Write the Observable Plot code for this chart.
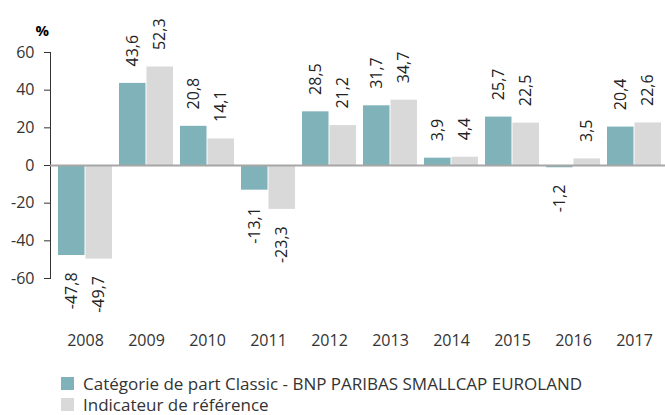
<!DOCTYPE html>
<html><head><meta charset="utf-8">
<script src="https://cdn.jsdelivr.net/npm/d3@7"></script>
<script src="https://cdn.jsdelivr.net/npm/@observablehq/plot@0.6"></script>
<style>
body{margin:0;background:#fff;font-family:"Open Sans",sans-serif;}
#legend{margin-top:21px;padding-left:61px;color:#333;}
.row{display:flex;align-items:center;height:21px;line-height:21px;font-size:17px;white-space:nowrap;}
.sw{width:13px;height:13px;margin-right:9px;flex:none;}
</style></head><body><div id="chart"></div><div id="legend"></div><script>
const years = ["2008","2009","2010","2011","2012","2013","2014","2015","2016","2017"];
const fundValues = [-47.8, 43.6, 20.8, -13.1, 28.5, 31.7, 3.9, 25.7, -1.2, 20.4];
const benchValues = [-49.7, 52.3, 14.1, -23.3, 21.2, 34.7, 4.4, 22.5, 3.5, 22.6];
const seriesNames = ["Catégorie de part Classic - BNP PARIBAS SMALLCAP EUROLAND", "Indicateur de référence"];
const seriesColors = ["#80b3b9", "#d9d9d9"];
const yTicks = [-60, -40, -20, 0, 20, 40, 60];
const unitLabel = "%";

const fmt = v => v.toFixed(1).replace(".", ",");
const data = years.flatMap((year, i) => [
  {year, s: 0, value: fundValues[i]},
  {year, s: 1, value: benchValues[i]}
]);

const xRange = [50, 669], pIn = 0.113, pOut = 0.05;
const step = (xRange[1] - xRange[0]) / (years.length - pIn + 2 * pOut);
const half = step * (1 - pIn) / 2;
const labelOffset = 9;

const labelMarks = [0, 1].flatMap(s => [true, false].map(pos =>
  Plot.text(data.filter(d => d.s === s && (d.value >= 0) === pos), {
    x: "year",
    y: d => d.value + (pos ? labelOffset : -labelOffset),
    text: d => fmt(d.value),
    rotate: -90,
    textAnchor: pos ? "start" : "end",
    dx: s === 0 ? -half / 2 : half / 2,
    fill: "#222"
  })
));

const chart = Plot.plot({
  width: 665, height: 352,
  marginLeft: 50, marginRight: 0, marginTop: 52, marginBottom: 74,
  style: {fontSize: "16px", fontFamily: "Open Sans", color: "#333", background: "#fff"},
  x: {domain: years, range: xRange, paddingInner: pIn, paddingOuter: pOut, align: 0.5, tickSize: 0, tickPadding: 56, label: null},
  y: {domain: [-60, 60], ticks: yTicks, tickSize: 6, tickPadding: 10, tickFormat: d => String(d), label: null, line: true},
  marks: [
    Plot.barY(data.filter(d => d.s === 0), {x: "year", y: "value", fill: seriesColors[0], insetRight: half}),
    Plot.barY(data.filter(d => d.s === 1), {x: "year", y: "value", fill: seriesColors[1], insetLeft: half}),
    Plot.ruleY([0], {stroke: "#a6a6a6", strokeWidth: 2}),
    ...labelMarks,
    Plot.text([unitLabel], {frameAnchor: "top-left", dx: -15, dy: -27, fontWeight: "bold", fill: "#000", fontSize: 15})
  ]
});
document.getElementById("chart").appendChild(chart);

const legend = d3.select("#legend");
seriesNames.forEach((name, i) => {
  const row = legend.append("div").attr("class", "row");
  row.append("span").attr("class", "sw").style("background", seriesColors[i]);
  row.append("span").text(name);
});
</script></body></html>
